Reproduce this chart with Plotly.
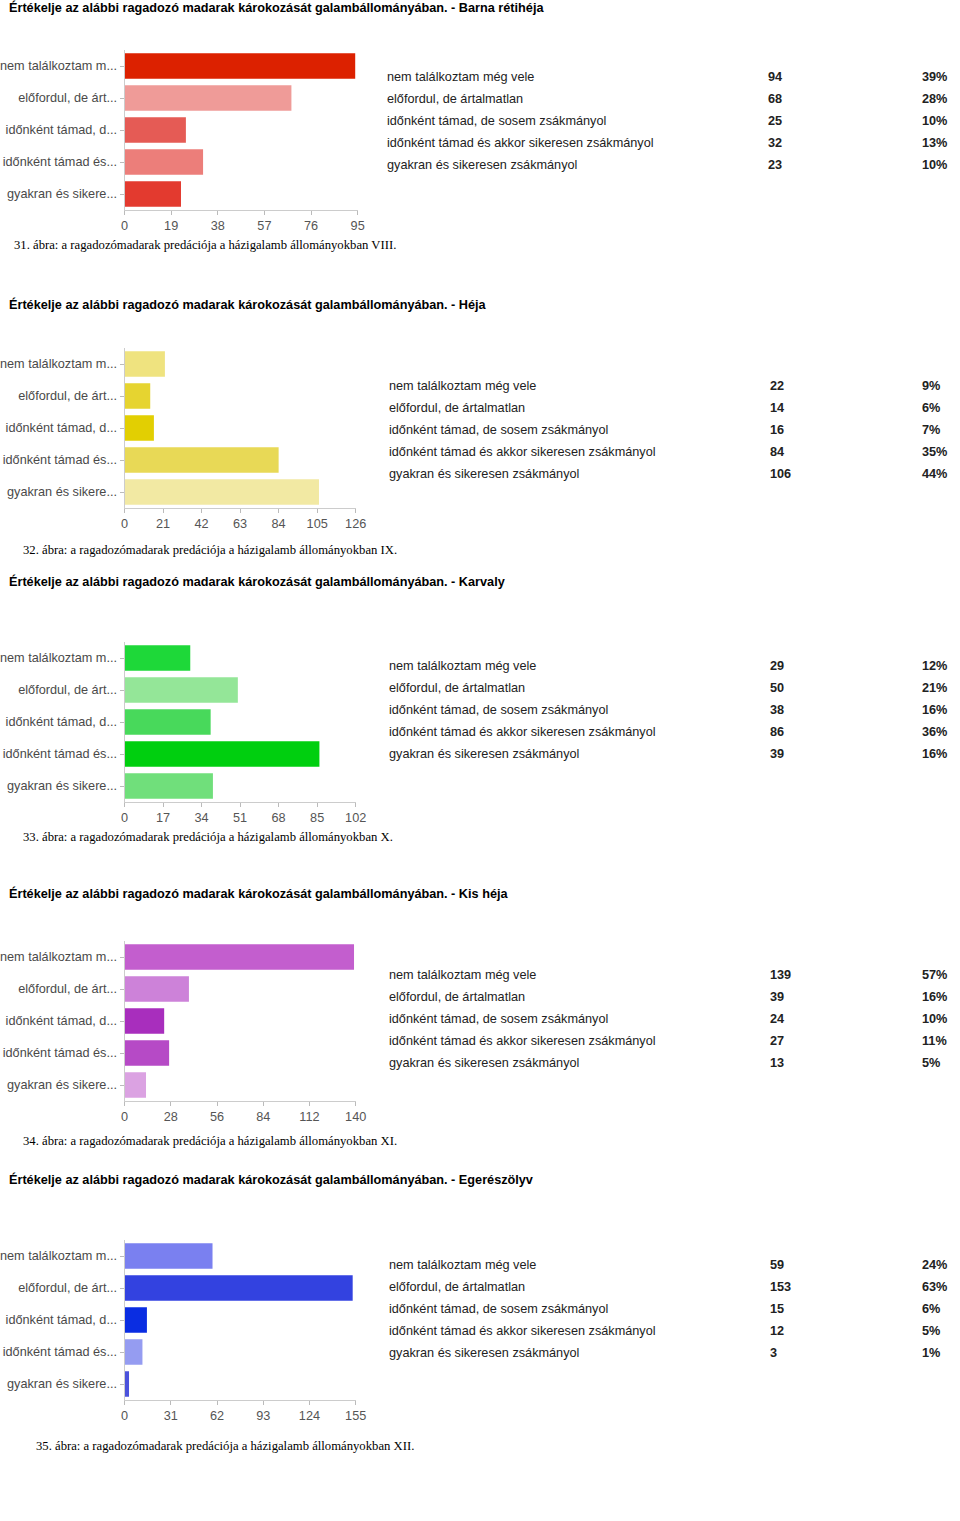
import plotly.graph_objects as go

W, H = 960, 1521

short_labels = ["nem találkoztam m...", "előfordul, de árt...", "időnként támad, d...",
                "időnként támad és...", "gyakran és sikere..."]
full_labels = ["nem találkoztam még vele", "előfordul, de ártalmatlan",
               "időnként támad, de sosem zsákmányol",
               "időnként támad és akkor sikeresen zsákmányol",
               "gyakran és sikeresen zsákmányol"]

titles = [
    "Értékelje az alábbi ragadozó madarak károkozását galambállományában. - Barna rétihéja",
    "Értékelje az alábbi ragadozó madarak károkozását galambállományában. - Héja",
    "Értékelje az alábbi ragadozó madarak károkozását galambállományában. - Karvaly",
    "Értékelje az alábbi ragadozó madarak károkozását galambállományában. - Kis héja",
    "Értékelje az alábbi ragadozó madarak károkozását galambállományában. - Egerészölyv",
]
captions = [
    "31. ábra: a ragadozómadarak predációja a házigalamb állományokban VIII.",
    "32. ábra: a ragadozómadarak predációja a házigalamb állományokban IX.",
    "33. ábra: a ragadozómadarak predációja a házigalamb állományokban X.",
    "34. ábra: a ragadozómadarak predációja a házigalamb állományokban XI.",
    "35. ábra: a ragadozómadarak predációja a házigalamb állományokban XII.",
]

values_barna = [94, 68, 25, 32, 23]
values_heja = [22, 14, 16, 84, 106]
values_karvaly = [29, 50, 38, 86, 39]
values_kisheja = [139, 39, 24, 27, 13]
values_egereszolyv = [59, 153, 15, 12, 3]

pct_barna = ["39%", "28%", "10%", "13%", "10%"]
pct_heja = ["9%", "6%", "7%", "35%", "44%"]
pct_karvaly = ["12%", "21%", "16%", "36%", "16%"]
pct_kisheja = ["57%", "16%", "10%", "11%", "5%"]
pct_egereszolyv = ["24%", "63%", "6%", "5%", "1%"]

ticks_barna = [0, 19, 38, 57, 76, 95]
ticks_heja = [0, 21, 42, 63, 84, 105, 126]
ticks_karvaly = [0, 17, 34, 51, 68, 85, 102]
ticks_kisheja = [0, 28, 56, 84, 112, 140]
ticks_egereszolyv = [0, 31, 62, 93, 124, 155]

colors_barna = ['#dc2100', '#ef9b98', '#e55b55', '#ec7e7a', '#e33a2f']
colors_heja = ['#efe37f', '#e6d430', '#e2cf02', '#e8d956', '#f2e9a3']
colors_karvaly = ['#1ed839', '#94e698', '#48d95b', '#00cf0f', '#70df7b']
colors_kisheja = ['#c35ece', '#cd82d9', '#a82ebd', '#b64ac6', '#dba2e2']
colors_egereszolyv = ['#7a80f0', '#3342e0', '#0a2de2', '#959cf1', '#4b52dc']

charts = [
    dict(v=values_barna, p=pct_barna, t=ticks_barna, c=colors_barna),
    dict(v=values_heja, p=pct_heja, t=ticks_heja, c=colors_heja),
    dict(v=values_karvaly, p=pct_karvaly, t=ticks_karvaly, c=colors_karvaly),
    dict(v=values_kisheja, p=pct_kisheja, t=ticks_kisheja, c=colors_kisheja),
    dict(v=values_egereszolyv, p=pct_egereszolyv, t=ticks_egereszolyv, c=colors_egereszolyv),
]

# layout geometry (pixels, as seen in the target page)
plot_top = [50, 348, 642, 941, 1240]
plot_bot = [210, 508, 802, 1101, 1400]
plot_left = [124, 124, 124, 124, 124]
plot_right = [358, 356, 356, 356, 356]
title_y = [8, 304, 581, 893, 1179]
caption_y = [245, 550, 837, 1141, 1446]
caption_x = [14, 23, 23, 23, 36]
table_y0 = [77, 386, 666, 975, 1265]
table_x = [387, 389, 389, 389, 389]
num_x = [768, 770, 770, 770, 770]
pct_x = 922

# horizontal compensation observed in the rendering
SX, OX = 0.985, 6.0

def px(x):
    return max(((x - OX) / SX) / W, 0.0)

def py(y):
    return 1 - y / H

fig = go.Figure()
annotations = []
layout = {}
SANS = "Liberation Sans, Arial, sans-serif"
SERIF = "Liberation Serif, Times New Roman, serif"
FS = 12.7

for i, ch in enumerate(charts):
    n = i + 1
    xa = "x" if n == 1 else f"x{n}"
    ya = "y" if n == 1 else f"y{n}"
    fig.add_trace(go.Bar(
        x=ch["v"], y=short_labels, orientation="h",
        marker=dict(color=ch["c"], line=dict(width=0)),
        xaxis=xa, yaxis=ya, showlegend=False, hoverinfo="x+y",
    ))
    xkey = "xaxis" if n == 1 else f"xaxis{n}"
    ykey = "yaxis" if n == 1 else f"yaxis{n}"
    layout[xkey] = dict(
        domain=[px(plot_left[i]), px(plot_right[i])],
        anchor=ya, range=[0, ch["t"][-1]], tickvals=ch["t"],
        ticks="outside", ticklen=4, tickcolor="#bbbbbb",
        showline=True, linecolor="#cccccc", linewidth=1,
        showgrid=False, zeroline=False, fixedrange=True,
        tickfont=dict(family=SANS, size=FS, color="#555555"),
    )
    layout[ykey] = dict(
        domain=[py(plot_bot[i]), py(plot_top[i])],
        anchor=xa, autorange="reversed", type="category",
        ticks="outside", ticklen=4, tickcolor="#bbbbbb",
        showline=True, linecolor="#cccccc", linewidth=1,
        showgrid=False, zeroline=False, fixedrange=True,
        tickfont=dict(family=SANS, size=FS, color="#4a4a4a"),
    )
    annotations.append(dict(
        x=0, y=py(title_y[i]), xref="paper", yref="paper",
        text="<b>" + titles[i] + "</b>", showarrow=False,
        xanchor="left", yanchor="middle",
        font=dict(family=SANS, size=FS, color="#000000"),
    ))
    annotations.append(dict(
        x=px(caption_x[i]), y=py(caption_y[i]), xref="paper", yref="paper",
        xshift=-3,
        text=captions[i], showarrow=False, xanchor="left", yanchor="middle",
        font=dict(family=SERIF, size=FS, color="#000000"),
    ))
    for r in range(5):
        yy = py(table_y0[i] + 22 * r)
        annotations.append(dict(
            x=px(table_x[i]), y=yy, xref="paper", yref="paper", xshift=-2,
            text=full_labels[r], showarrow=False, xanchor="left", yanchor="middle",
            font=dict(family=SANS, size=FS, color="#222222"),
        ))
        annotations.append(dict(
            x=px(num_x[i]), y=yy, xref="paper", yref="paper",
            text="<b>" + str(ch["v"][r]) + "</b>", showarrow=False,
            xanchor="left", yanchor="middle",
            font=dict(family=SANS, size=FS, color="#222222"),
        ))
        annotations.append(dict(
            x=px(pct_x), y=yy, xref="paper", yref="paper",
            text="<b>" + ch["p"][r] + "</b>", showarrow=False,
            xanchor="left", yanchor="middle",
            font=dict(family=SANS, size=FS, color="#222222"),
        ))

fig.update_layout(
    width=W, height=H, autosize=False, margin=dict(l=0, r=0, t=0, b=0),
    paper_bgcolor="white", plot_bgcolor="white",
    bargap=0.2, annotations=annotations, **layout,
)

fig.write_html(
    "out.html",
    config=dict(displayModeBar=False, responsive=False),
    post_script="document.body.style.margin='0';document.body.style.overflow='hidden';",
)
